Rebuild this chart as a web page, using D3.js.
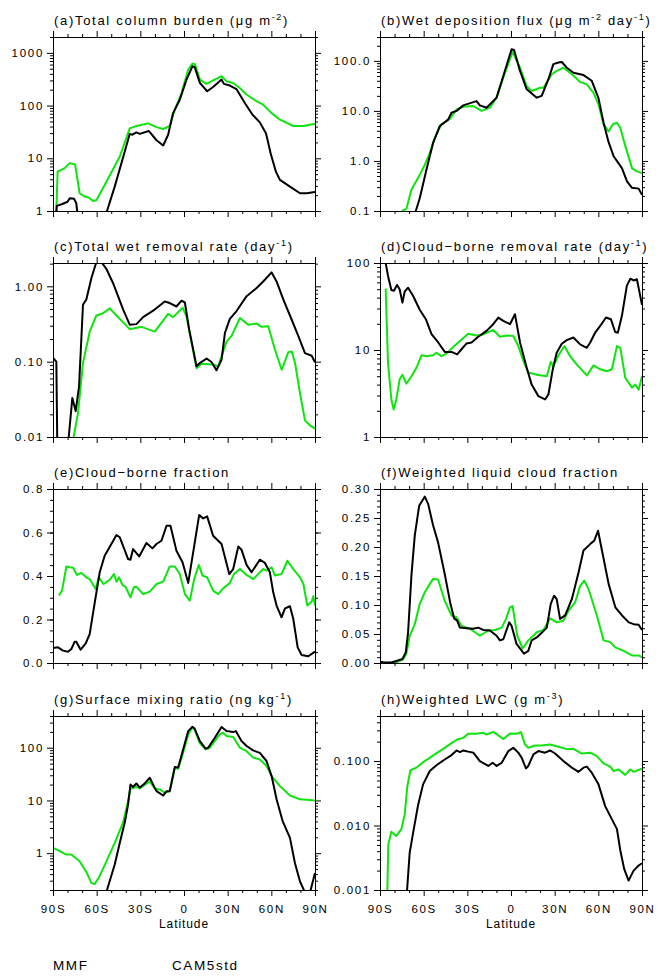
<!DOCTYPE html>
<html>
<head>
<meta charset="utf-8">
<script src="https://cdn.jsdelivr.net/npm/d3@7"></script>
<style>
body { margin: 0; background: #fff; }
svg { display: block; }
.title { font-family: "Liberation Sans", Arial, sans-serif; font-size: 13px; letter-spacing: 1.7px; fill: #000; }
.axis text { font-family: "Liberation Sans", Arial, sans-serif; font-size: 11.5px; letter-spacing: 1.7px; fill: #000; }
.xtitle, .legend { font-family: "Liberation Sans", Arial, sans-serif; fill: #000; }
</style>
</head>
<body>
<div id="chart"></div>
<script>
var mmf_color = "#10e410";
var cam_color = "#000000";
var series_names = ["MMF", "CAM5std"];

var lat_ticks = [-90, -60, -30, 0, 30, 60, 90];
var lat_labels = ["90S", "60S", "30S", "0", "30N", "60N", "90N"];
var lat_minor = [-80, -70, -50, -40, -20, -10, 10, 20, 40, 50, 70, 80];

// (a) total column burden
var burden_cam = [[-88.2,0.6],[-87.4,1.25],[-83.6,1.36],[-80,1.5],[-78.5,1.74],[-75.5,1.7],[-74,1.4],[-72.5,0.6],[-55,0.3],[-52.9,1.0],[-47.6,2.9],[-40.7,13.5],[-37.3,29],[-35.5,28],[-32.7,31],[-30.4,29],[-24.2,33],[-18.9,22],[-14.3,17.5],[-10.9,28],[-7.5,72],[-2.9,129],[1.7,311],[5.8,557],[7.4,535],[10.9,270],[15.9,187],[20,225],[25.8,311],[27.4,258],[31.5,240],[36,206],[41.8,112],[47.1,67],[52.1,48],[56.3,30],[59.5,12.5],[63.1,5.6],[65.9,3.9],[72.8,2.9],[79.7,2.17],[84.3,2.17],[90,2.3]];
var burden_mmf = [[-88,0.6],[-86.8,5.6],[-82,6.5],[-78.5,8.1],[-74.8,7.6],[-73.5,4.5],[-71.7,2.17],[-68.2,1.88],[-65.5,1.8],[-62.5,1.55],[-60.2,1.6],[-53.3,3.6],[-44.1,10.8],[-37.3,37],[-32.7,41],[-24.7,46],[-18.9,39],[-14.3,36],[-9.8,41],[-6.3,84],[-1.7,173],[2.9,482],[5.8,627],[7.4,617],[10.9,311],[15.5,258],[20,300],[25.8,360],[29.2,289],[33.8,269],[38.3,216],[42.9,162],[49.8,121],[54.4,104],[60.2,72],[65.9,54],[75.1,41],[82,41],[90,45]];

// (b) wet deposition flux
var wetdep_cam = [[-66.5,0.05],[-65.4,0.1],[-62.7,0.18],[-58.1,0.67],[-53.5,2.3],[-48.9,5.0],[-43.2,6.7],[-40.9,9.2],[-37.4,10],[-32.8,12.9],[-23.7,15.7],[-21.4,12.9],[-16.8,11.6],[-9.9,18.4],[-5.3,50],[0.4,171],[2.1,165],[6.2,63],[10.8,27],[17.7,18.4],[21.1,20],[25.7,43],[29.1,86],[32.6,93],[34.9,95],[38.3,73],[42.9,58],[49.8,52],[55.5,40],[60.1,18],[63.6,5.8],[67,2.4],[70.5,1.24],[76.2,0.72],[79.7,0.39],[83.1,0.29],[87.7,0.28],[90,0.21]];
var wetdep_mmf = [[-76,0.05],[-74.6,0.1],[-71.9,0.11],[-68.4,0.27],[-63.8,0.46],[-59.2,0.84],[-55.8,1.45],[-52.4,2.9],[-47.8,5.4],[-42,6.9],[-37.4,10.7],[-32.8,12.1],[-25.9,12.5],[-20.2,10],[-14.5,11.6],[-9.9,18.4],[-5.3,46],[1.1,151],[6.2,73],[10.8,31],[14.2,25],[20,29],[22.3,29],[28,54],[31.4,63],[36,73],[41.8,54],[47.5,38],[52.1,34],[56.7,23],[60.1,13.5],[63.6,5.4],[67,3.9],[70,5.4],[72.8,5.8],[75.1,4.6],[78.5,2.0],[83.1,0.72],[86.5,0.62],[90,0.57]];

// (c) total wet removal rate
var wetrate_cam = [[-90,0.112],[-87.7,0.1],[-86.8,0.003],[-79.6,0.003],[-79.2,0.01],[-76.7,0.033],[-74.4,0.022],[-72.1,0.047],[-69.4,0.57],[-67.1,0.67],[-63.6,1.29],[-60.2,2.1],[-56.8,2.1],[-53.3,1.7],[-48.7,1.1],[-41.8,0.49],[-37.3,0.31],[-32.7,0.315],[-28.1,0.39],[-21.2,0.475],[-13.2,0.63],[-9.8,0.6],[-5.2,0.54],[-1.7,0.645],[0.6,0.61],[3.5,0.27],[8.6,0.087],[10.9,0.096],[15.5,0.11],[18.9,0.099],[22.3,0.077],[25.8,0.106],[28.1,0.24],[31.5,0.37],[36.1,0.47],[43,0.74],[49.9,0.95],[54.4,1.16],[60.2,1.53],[63.6,1.16],[68.2,0.67],[74,0.36],[78.5,0.22],[83.1,0.13],[87.7,0.12],[90,0.098]];
var wetrate_mmf = [[-77,0.005],[-75.8,0.01],[-72.8,0.021],[-69.4,0.096],[-64.8,0.25],[-60.2,0.41],[-55.6,0.44],[-51,0.51],[-46.4,0.41],[-37.3,0.27],[-29.2,0.29],[-20.1,0.25],[-10.9,0.43],[-7.5,0.39],[-0.9,0.52],[1.7,0.40],[8.6,0.082],[12,0.094],[20.1,0.092],[23.5,0.087],[25.8,0.118],[29.3,0.186],[32.7,0.22],[38.4,0.38],[44.1,0.31],[49.9,0.32],[53.3,0.29],[57.9,0.295],[62.5,0.144],[67.1,0.078],[71.6,0.133],[74,0.137],[76.3,0.096],[79.7,0.038],[83.1,0.0166],[86.5,0.0143],[90,0.0129]];

// (d) cloud-borne removal rate
var cbrate_cam = [[-86.1,100],[-84.5,71],[-82.2,49],[-80.4,48],[-78.3,56],[-76.5,50],[-74.6,35],[-73,47],[-70.7,52],[-67.3,42],[-62.7,29],[-58.5,22.6],[-54.6,15.2],[-50,12.2],[-45.5,9.5],[-40.9,9.5],[-37,8.9],[-34,10.2],[-30.5,11.9],[-27.1,12.2],[-22.5,14.2],[-16.8,16.6],[-12.2,19.8],[-8.7,23.6],[-5.3,21.6],[-0.7,19.8],[2.7,25.8],[6.2,12.2],[10.8,6.25],[14.2,4.0],[18.8,2.95],[23.4,2.7],[25.7,3.08],[28.7,6.0],[31.4,9.3],[34.9,11.8],[38.3,13],[42.9,13.9],[47.5,11.6],[52.1,10.6],[54.4,12.2],[57.8,15.8],[61.3,18.9],[65.2,23.6],[68.6,22.6],[71.6,16.1],[73.4,15.8],[76.2,24.7],[79.6,55],[82,66],[84.2,63],[86.5,65],[90,33]];
var cbrate_mmf = [[-86.1,51],[-84.5,7.1],[-82.2,2.7],[-80.6,2.07],[-78.8,2.7],[-76.5,4.6],[-74.6,5.2],[-71.9,4.1],[-68.4,5.0],[-65,6.25],[-61.5,8.7],[-58.1,8.5],[-53.5,8.7],[-51.2,9.3],[-47.8,8.5],[-44.3,9.1],[-38.6,11.3],[-35.1,12.7],[-29.4,15.4],[-23.7,14.7],[-19.1,15.1],[-12.2,17],[-7.6,14.2],[-3,14.7],[1.6,14.5],[5,11.1],[8.5,7.5],[11.9,5.5],[17.7,5.2],[24.6,5.0],[27.3,7.3],[29.1,6.5],[32.6,8.7],[36.7,11.1],[40.6,8.5],[45.2,6.8],[52.1,5.1],[56.7,6.65],[61.3,6.0],[65.9,5.7],[69.3,6.0],[72.8,11.1],[75.1,10.6],[78.5,4.8],[83.1,3.7],[85.4,4.0],[87.7,3.5],[90,5.0]];

// (e) cloud-borne fraction
var cbfrac_cam = [[-90,0.069],[-86.6,0.072],[-83.1,0.057],[-79.7,0.052],[-77.4,0.064],[-75.1,0.098],[-74,0.098],[-71,0.061],[-67.5,0.09],[-64.8,0.133],[-61.3,0.279],[-57.9,0.417],[-54.5,0.493],[-49.9,0.547],[-46.4,0.588],[-44.1,0.578],[-38.4,0.478],[-36.8,0.475],[-35,0.524],[-30.8,0.49],[-25.8,0.552],[-21.7,0.527],[-18.9,0.547],[-15.5,0.562],[-12,0.631],[-9.3,0.631],[-5.2,0.516],[-1,0.463],[2.9,0.368],[6.3,0.509],[10.4,0.68],[13.2,0.665],[15.9,0.674],[20,0.585],[25.8,0.547],[31.1,0.409],[33.8,0.432],[37.3,0.536],[39.5,0.521],[43,0.451],[46.4,0.417],[52.1,0.475],[55.6,0.46],[59,0.417],[61.3,0.325],[63.6,0.264],[67,0.21],[69.4,0.251],[72.8,0.261],[75.1,0.202],[78.1,0.072],[80.8,0.037],[85.4,0.031],[90,0.052]];
var cbfrac_mmf = [[-85.9,0.31],[-83.8,0.333],[-80.8,0.444],[-78.5,0.44],[-76.2,0.438],[-73.5,0.405],[-70.5,0.414],[-67.1,0.394],[-64.8,0.386],[-60.7,0.34],[-58.6,0.394],[-55.2,0.363],[-51,0.383],[-48.1,0.409],[-46.4,0.374],[-44.6,0.394],[-42.3,0.359],[-40,0.348],[-36.8,0.302],[-34.5,0.348],[-32.7,0.351],[-28.1,0.317],[-23.5,0.328],[-18.9,0.363],[-14.3,0.374],[-9.8,0.444],[-6.3,0.444],[-2.9,0.409],[0.6,0.317],[4,0.287],[7,0.386],[10.2,0.451],[12.7,0.402],[15.9,0.394],[20,0.333],[23.5,0.317],[26.9,0.343],[31.5,0.368],[34.3,0.409],[38.4,0.432],[43,0.405],[47.6,0.386],[54.4,0.432],[56.7,0.425],[60.2,0.44],[62.5,0.402],[67,0.409],[71,0.47],[75.1,0.432],[79.7,0.394],[82,0.363],[84.7,0.264],[87.7,0.282],[88.8,0.307],[90,0.264]];

// (f) weighted liquid cloud fraction
var lcf_cam = [[-90,0.002],[-86.8,0.001],[-82.2,0.001],[-78.3,0.004],[-74.6,0.007],[-72.3,0.018],[-70.7,0.053],[-68.4,0.151],[-66.1,0.22],[-63.1,0.271],[-59.2,0.287],[-56.9,0.274],[-53.5,0.237],[-50.1,0.208],[-45.5,0.153],[-41.6,0.102],[-39.1,0.077],[-37,0.073],[-35.1,0.061],[-30.5,0.06],[-26,0.059],[-22.5,0.061],[-19.1,0.057],[-14.5,0.056],[-9.9,0.047],[-7.6,0.039],[-5.3,0.041],[-1.2,0.07],[0.4,0.064],[3.8,0.033],[8.9,0.016],[11.9,0.021],[14.2,0.039],[17.7,0.044],[21.1,0.052],[24.6,0.061],[27.3,0.102],[29.6,0.116],[31.4,0.110],[33.7,0.076],[37.2,0.082],[41.8,0.110],[46.4,0.156],[49.8,0.194],[54.4,0.205],[57.2,0.211],[59.8,0.228],[62.5,0.194],[67.1,0.136],[71.7,0.096],[76.3,0.082],[80.9,0.07],[84.3,0.067],[87.7,0.066],[90,0.057]];
var lcf_mmf = [[-90,0.0],[-85.6,0.0],[-78.8,0.001],[-74.2,0.006],[-71.9,0.016],[-69.6,0.047],[-66.1,0.067],[-62.7,0.102],[-59.2,0.122],[-55.8,0.136],[-53.5,0.145],[-50.1,0.144],[-45.5,0.107],[-40.9,0.082],[-37.4,0.079],[-34,0.064],[-28.2,0.059],[-21.4,0.047],[-15.6,0.056],[-11,0.057],[-6.4,0.061],[-3.4,0.076],[-0.7,0.096],[1.1,0.098],[4.3,0.047],[8,0.025],[11.9,0.039],[17.7,0.053],[22.3,0.057],[26.9,0.077],[31.4,0.07],[36,0.073],[39.5,0.090],[44.1,0.105],[47.5,0.133],[50.3,0.142],[53.2,0.128],[59,0.082],[63.6,0.039],[68.2,0.036],[71.6,0.027],[77.4,0.021],[83.1,0.013],[87.7,0.013],[90,0.01]];

// (g) surface mixing ratio
var mix_cam = [[-55,0.1],[-52.9,0.2],[-47.6,0.61],[-44.1,1.57],[-40.7,3.8],[-38.4,8.4],[-36.8,20],[-35,18],[-32.7,21],[-30.4,17.5],[-27,21],[-23.5,27],[-21.2,20],[-18.9,15],[-14.3,12.4],[-12,15],[-9.8,15],[-6.3,43],[-4,42],[-0.6,93],[2.9,207],[5.8,250],[7.4,229],[10.9,134],[14.8,96],[16.6,100],[21.2,155],[25.8,247],[29.2,207],[33.8,198],[35.6,207],[39.5,134],[43,108],[47.5,89],[52.1,80],[56.7,56],[60.2,29],[63.6,10.5],[67.7,4.1],[72.8,1.95],[76.2,0.65],[79.7,0.29],[83.1,0.18],[86.6,0.18],[90,0.42]];
var mix_mmf = [[-90,1.26],[-85.4,1.09],[-80.8,0.94],[-77.4,0.94],[-71.7,0.7],[-67.1,0.44],[-63.6,0.27],[-61.3,0.26],[-57.9,0.37],[-53.3,0.7],[-47.6,1.57],[-41.9,3.8],[-38.4,9.7],[-36.8,16.7],[-32.7,18],[-30.4,17],[-23.5,23],[-20.1,16.7],[-16.6,16.2],[-13.2,14],[-9.8,15],[-6.3,42],[-4,40],[-0.6,80],[2.9,179],[5.8,247],[7.4,216],[10.9,121],[14.8,93],[17.8,100],[24.6,179],[26.9,193],[29.2,167],[33.8,160],[38.4,100],[43,86],[47.5,65],[52.1,60],[56.7,45],[60.2,29],[65.9,18.7],[72.8,12.4],[79.7,10.5],[90,10]];

// (h) weighted LWC
var lwc_cam = [[-71.8,0.0007],[-71.4,0.001],[-69.6,0.0038],[-66.8,0.0088],[-63.8,0.021],[-60.4,0.0435],[-55.8,0.07],[-51.2,0.086],[-46.6,0.102],[-41.6,0.12],[-37.4,0.146],[-35.1,0.138],[-32.8,0.146],[-29.4,0.14],[-25.9,0.135],[-21.4,0.1],[-15.6,0.084],[-12.6,0.094],[-9.9,0.084],[-6.4,0.094],[-1.8,0.143],[1.6,0.161],[5,0.135],[7.3,0.113],[10.3,0.077],[11.9,0.084],[15.4,0.127],[18.8,0.143],[23.4,0.135],[26.8,0.146],[30.3,0.131],[36,0.1],[41.8,0.079],[46.4,0.068],[49.8,0.079],[52.1,0.082],[55.5,0.066],[60.1,0.0435],[64.7,0.02],[68.2,0.014],[72.8,0.0088],[75.1,0.0041],[77.8,0.0021],[80.8,0.0014],[84.2,0.002],[87.7,0.0024],[90,0.0026]];
var lwc_mmf = [[-85.3,0.0004],[-84.3,0.0051],[-82.2,0.008],[-78.8,0.0069],[-75.3,0.0088],[-73,0.015],[-71.2,0.041],[-69.1,0.072],[-65,0.079],[-60.4,0.096],[-56.9,0.108],[-52.4,0.127],[-46.6,0.155],[-40.9,0.19],[-37,0.216],[-32.8,0.229],[-29.4,0.265],[-23.7,0.265],[-19.1,0.274],[-16.8,0.258],[-12.2,0.284],[-8.7,0.25],[-5.3,0.22],[-0.7,0.268],[3.9,0.265],[6.9,0.281],[9.6,0.18],[11.9,0.161],[16.5,0.174],[21.1,0.174],[26.8,0.181],[32.6,0.167],[38.3,0.153],[42.9,0.155],[48.7,0.131],[54.4,0.135],[59,0.119],[63.6,0.092],[68.2,0.082],[70.5,0.07],[73.9,0.074],[78.5,0.061],[81.9,0.074],[84.2,0.068],[90,0.076]];

var plot_w = 262;
var plot_h = 174;

var svg = d3.select("#chart")
    .append("svg")
    .attr("width", 663)
    .attr("height", 977);

function log_minor(domain) {
    var out = [];
    var lo = Math.floor(Math.log10(domain[0]));
    var hi = Math.ceil(Math.log10(domain[1]));
    for (var e = lo; e <= hi; e++) {
        for (var k = 2; k <= 9; k++) {
            var v = k * Math.pow(10, e);
            if (v >= domain[0] * 0.999 && v <= domain[1] * 1.001) out.push(v);
        }
    }
    return out;
}

function add_title(g, str) {
    var t = g.append("text")
        .attr("class", "title")
        .attr("x", 1)
        .attr("y", -12.5);
    var parts = str.split(/(\^\{[^}]*\})/);
    var raised = false;
    parts.forEach(function(s) {
        if (s === "") return;
        if (s.charAt(0) === "^") {
            t.append("tspan")
                .attr("dy", -5)
                .style("font-size", "9px")
                .text(s.slice(2, -1));
            raised = true;
        } else {
            t.append("tspan")
                .attr("dy", raised ? 5 : 0)
                .text(s);
            raised = false;
        }
    });
}

function draw_panel(p) {

    var g = svg.append("g")
        .attr("transform", "translate(" + p.x + "," + p.y + ")");

    var xScale = d3.scaleLinear()
        .domain([-90, 90])
        .range([0, plot_w]);

    var yScale = (p.log ? d3.scaleLog() : d3.scaleLinear())
        .domain(p.domain)
        .range([plot_h, 0]);

    var minor = p.log ? log_minor(p.domain) : d3.range(p.domain[0], p.domain[1] + p.minor / 2, p.minor);

    g.append("clipPath")
        .attr("id", "clip_" + p.id)
        .append("rect")
        .attr("width", plot_w + 1)
        .attr("height", plot_h + 1);

    var line = d3.line()
        .x(function(d) { return xScale(d[0]); })
        .y(function(d) { return yScale(d[1]); });

    var lines = g.append("g").attr("clip-path", "url(#clip_" + p.id + ")");
    lines.append("path")
        .datum(p.mmf)
        .attr("d", line)
        .attr("fill", "none")
        .attr("stroke", mmf_color)
        .attr("stroke-width", 2)
        .attr("stroke-linejoin", "round");
    lines.append("path")
        .datum(p.cam)
        .attr("d", line)
        .attr("fill", "none")
        .attr("stroke", cam_color)
        .attr("stroke-width", 2)
        .attr("stroke-linejoin", "round");

    // left
    g.append("g").attr("class", "axis")
        .call(d3.axisLeft(yScale).tickValues(p.major).tickSize(6).tickSizeOuter(0).tickPadding(3)
            .tickFormat(function(d, i) { return p.labels[i]; }));
    g.append("g").attr("class", "axis")
        .call(d3.axisLeft(yScale).tickValues(minor).tickSize(3).tickSizeOuter(0).tickFormat(""));
    // right
    g.append("g").attr("class", "axis")
        .attr("transform", "translate(" + plot_w + ",0)")
        .call(d3.axisRight(yScale).tickValues(p.major).tickSize(6).tickSizeOuter(0).tickFormat(""));
    g.append("g").attr("class", "axis")
        .attr("transform", "translate(" + plot_w + ",0)")
        .call(d3.axisRight(yScale).tickValues(minor).tickSize(3).tickSizeOuter(0).tickFormat(""));
    // top
    g.append("g").attr("class", "axis")
        .call(d3.axisTop(xScale).tickValues(lat_ticks).tickSize(6).tickSizeOuter(0).tickFormat(""));
    g.append("g").attr("class", "axis")
        .call(d3.axisTop(xScale).tickValues(lat_minor).tickSize(3).tickSizeOuter(0).tickFormat(""));
    // bottom
    g.append("g").attr("class", "axis")
        .attr("transform", "translate(0," + plot_h + ")")
        .call(d3.axisBottom(xScale).tickValues(lat_ticks).tickSize(6).tickSizeOuter(0).tickPadding(9)
            .tickFormat(function(d, i) { return p.xlabels ? lat_labels[i] : ""; }));
    g.append("g").attr("class", "axis")
        .attr("transform", "translate(0," + plot_h + ")")
        .call(d3.axisBottom(xScale).tickValues(lat_minor).tickSize(3).tickSizeOuter(0).tickFormat(""));

    g.selectAll(".axis text").attr("font-family", null).attr("font-size", null);

    if (p.xlabels) {
        g.append("text")
            .attr("class", "xtitle")
            .attr("x", plot_w / 2)
            .attr("y", plot_h + 38)
            .attr("text-anchor", "middle")
            .style("font-size", "12px")
            .style("letter-spacing", "0.9px")
            .text("Latitude");
    }

    add_title(g, p.title);
}

var col_x = [53, 380];
var row_y = [37, 263, 489, 716];

var panels = [
    { id: "a", title: "(a)Total column burden (μg m^{-2})", x: col_x[0], y: row_y[0], log: true, domain: [1, 2000],
      major: [1, 10, 100, 1000], labels: ["1", "10", "100", "1000"], cam: burden_cam, mmf: burden_mmf },
    { id: "b", title: "(b)Wet deposition flux (μg m^{-2} day^{-1})", x: col_x[1], y: row_y[0], log: true, domain: [0.1, 300],
      major: [0.1, 1, 10, 100], labels: ["0.1", "1.0", "10.0", "100.0"], cam: wetdep_cam, mmf: wetdep_mmf },
    { id: "c", title: "(c)Total wet removal rate (day^{-1})", x: col_x[0], y: row_y[1], log: true, domain: [0.01, 2.04],
      major: [0.01, 0.1, 1], labels: ["0.01", "0.10", "1.00"], cam: wetrate_cam, mmf: wetrate_mmf },
    { id: "d", title: "(d)Cloud−borne removal rate (day^{-1})", x: col_x[1], y: row_y[1], log: true, domain: [1, 100],
      major: [1, 10, 100], labels: ["1", "10", "100"], cam: cbrate_cam, mmf: cbrate_mmf },
    { id: "e", title: "(e)Cloud−borne fraction", x: col_x[0], y: row_y[2], log: false, domain: [0, 0.8], minor: 0.05,
      major: [0, 0.2, 0.4, 0.6, 0.8], labels: ["0.0", "0.2", "0.4", "0.6", "0.8"], cam: cbfrac_cam, mmf: cbfrac_mmf },
    { id: "f", title: "(f)Weighted liquid cloud fraction", x: col_x[1], y: row_y[2], log: false, domain: [0, 0.3], minor: 0.01,
      major: [0, 0.05, 0.1, 0.15, 0.2, 0.25, 0.3], labels: ["0.00", "0.05", "0.10", "0.15", "0.20", "0.25", "0.30"], cam: lcf_cam, mmf: lcf_mmf },
    { id: "g", title: "(g)Surface mixing ratio (ng kg^{-1})", x: col_x[0], y: row_y[3], log: true, domain: [0.2, 400], xlabels: true,
      major: [1, 10, 100], labels: ["1", "10", "100"], cam: mix_cam, mmf: mix_mmf },
    { id: "h", title: "(h)Weighted LWC (g m^{-3})", x: col_x[1], y: row_y[3], log: true, domain: [0.001, 0.5], xlabels: true,
      major: [0.001, 0.01, 0.1], labels: ["0.001", "0.010", "0.100"], cam: lwc_cam, mmf: lwc_mmf }
];

panels.forEach(draw_panel);

// legend (its line samples fall just below the bottom edge)
var legend_x = [53, 172];
var legend_colors = [mmf_color, cam_color];
series_names.forEach(function(name, i) {
    svg.append("text")
        .attr("class", "legend")
        .attr("x", legend_x[i])
        .attr("y", 969.5)
        .style("font-size", "13.5px")
        .style("letter-spacing", "1.6px")
        .text(name);
    svg.append("line")
        .attr("x1", legend_x[i])
        .attr("x2", legend_x[i] + 77)
        .attr("y1", 978.2)
        .attr("y2", 978.2)
        .attr("stroke", legend_colors[i])
        .attr("stroke-width", 2.5);
});
</script>
</body>
</html>
